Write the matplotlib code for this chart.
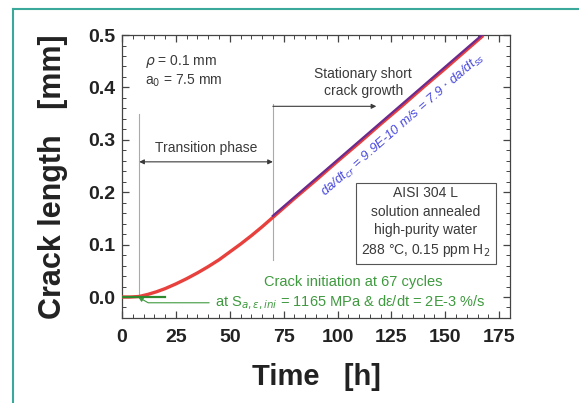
import numpy as np
import matplotlib.pyplot as plt
from matplotlib.lines import Line2D
from matplotlib.ticker import MultipleLocator

plt.rcParams['font.family'] = ['Liberation Sans', 'DejaVu Sans']

# measured crack length vs time
time_h = [0, 4, 8, 12, 16, 20, 25, 30, 35, 40, 45, 50, 55, 60, 65, 70,
          80, 90, 100, 110, 120, 130, 140, 150, 160, 167]
crack_mm = [0.0, 0.0, 0.001, 0.005, 0.010, 0.016, 0.025, 0.035, 0.046, 0.058,
            0.071, 0.086, 0.101, 0.117, 0.134, 0.152, 0.188, 0.223, 0.259,
            0.294, 0.330, 0.365, 0.401, 0.436, 0.472, 0.497]

# initiation segment (green) and stationary growth fit (purple)
init_t = [0, 8, 20]
init_a = [0.0, 0.0, 0.0]
fit_t = [70, 167]
fit_a = [0.155, 0.500]

t_init = 8
t_stat = 70

grey = '#3a3a3a'
green = '#3f9a3f'

fig = plt.figure(figsize=(5.79, 4.03), dpi=100)
ax = fig.add_axes([0.2107, 0.211, 0.670, 0.702])

ax.plot(time_h, crack_mm, color='#e8403c', lw=2.4, zorder=3)
ax.plot(fit_t, fit_a, color='#6a2a90', lw=1.6, zorder=4)
ax.plot(init_t, init_a, color='#2f8a2f', lw=1.6, zorder=5)

# phase boundaries
ax.plot([t_init, t_init], [0.0, 0.35], color='#aaaaaa', lw=0.8, zorder=1)
ax.plot([t_stat, t_stat], [0.07, 0.368], color='#aaaaaa', lw=0.8, zorder=1)

ax.annotate('', xy=(t_init, 0.258), xytext=(t_stat, 0.258),
            arrowprops=dict(arrowstyle='<|-|>', color=grey, lw=0.8,
                            mutation_scale=7, shrinkA=0, shrinkB=0))
ax.text((t_init + t_stat) / 2, 0.272, 'Transition phase', ha='center',
        va='bottom', fontsize=10, color=grey)

ax.annotate('', xy=(118, 0.364), xytext=(t_stat, 0.364),
            arrowprops=dict(arrowstyle='-|>', color=grey, lw=0.8,
                            mutation_scale=7, shrinkA=0, shrinkB=0))
ax.text(112, 0.41, 'Stationary short\ncrack growth', ha='center',
        va='center', fontsize=10, color=grey, linespacing=1.3)

ax.text(10.5, 0.449, r'$\rho$ = 0.1 mm', fontsize=10, color=grey,
        va='center')
ax.text(10.5, 0.413, r'a$_0$ = 7.5 mm', fontsize=10, color=grey,
        va='center')

ax.text(130.5, 0.328,
        r'da/dt$_{cr}$ = 9.9E-10 m/s = 7.9 $\cdot$ da/dt$_{ss}$',
        rotation=41, rotation_mode='anchor', ha='center', va='center',
        fontsize=9.5, color='#4848e0', style='italic')

ax.text(141, 0.142, 'AISI 304 L\nsolution annealed\nhigh-purity water\n'
        r'288 °C, 0.15 ppm H$_2$', ha='center', va='center', fontsize=10,
        color=grey, linespacing=1.4,
        bbox=dict(boxstyle='square,pad=0.4', fc='white', ec='#555555',
                  lw=0.8))

ax.text(107.5, 0.028, 'Crack initiation at 67 cycles', ha='center',
        va='center', fontsize=10.5, color=green)
ax.annotate(r'at S$_{a,ε,ini}$ = 1165 MPa & dε/dt = 2E-3 %/s',
            xy=(7.5, 0.0), xytext=(43, -0.011), ha='left', va='center',
            fontsize=10.5, color=green,
            arrowprops=dict(arrowstyle='-|>', color=green, lw=0.8,
                            mutation_scale=7, shrinkA=2, shrinkB=0,
                            connectionstyle='angle,angleA=180,angleB=150,rad=0'))

ax.set_xlim(0, 180)
ax.set_ylim(-0.04, 0.5)
ax.xaxis.set_major_locator(MultipleLocator(25))
ax.xaxis.set_minor_locator(MultipleLocator(5))
ax.yaxis.set_major_locator(MultipleLocator(0.1))
ax.yaxis.set_minor_locator(MultipleLocator(0.02))
ax.set_yticks([0.0, 0.1, 0.2, 0.3, 0.4, 0.5])
ax.set_yticklabels(['0.0', '0.1', '0.2', '0.3', '0.4', '0.5'])
ax.tick_params(which='both', direction='in', top=True, right=True,
               color='#444444')
ax.tick_params(which='major', length=5, width=0.9)
ax.tick_params(which='minor', length=3, width=0.7)
ax.tick_params(axis='x', pad=8)
ax.tick_params(axis='y', pad=5)
for lab in ax.get_xticklabels() + ax.get_yticklabels():
    lab.set_fontweight('bold')
    lab.set_fontsize(14)
    lab.set_color('#222222')
for sp in ax.spines.values():
    sp.set_color('#444444')
    sp.set_linewidth(0.9)

ax.set_xlabel('Time   [h]', fontsize=21, fontweight='bold', color='#222222',
              labelpad=12)
ax.set_ylabel('Crack length   [mm]', fontsize=22, fontweight='bold',
              color='#222222', labelpad=14)

# teal frame at top and left
teal = '#3aa89a'
fig.add_artist(Line2D([13 / 579, 1.0], [1 - 9 / 403, 1 - 9 / 403],
                      transform=fig.transFigure, color=teal, lw=1.5))
fig.add_artist(Line2D([13 / 579, 13 / 579], [0.0, 1 - 9 / 403],
                      transform=fig.transFigure, color=teal, lw=1.5))

fig.savefig('out.png', dpi=100)
